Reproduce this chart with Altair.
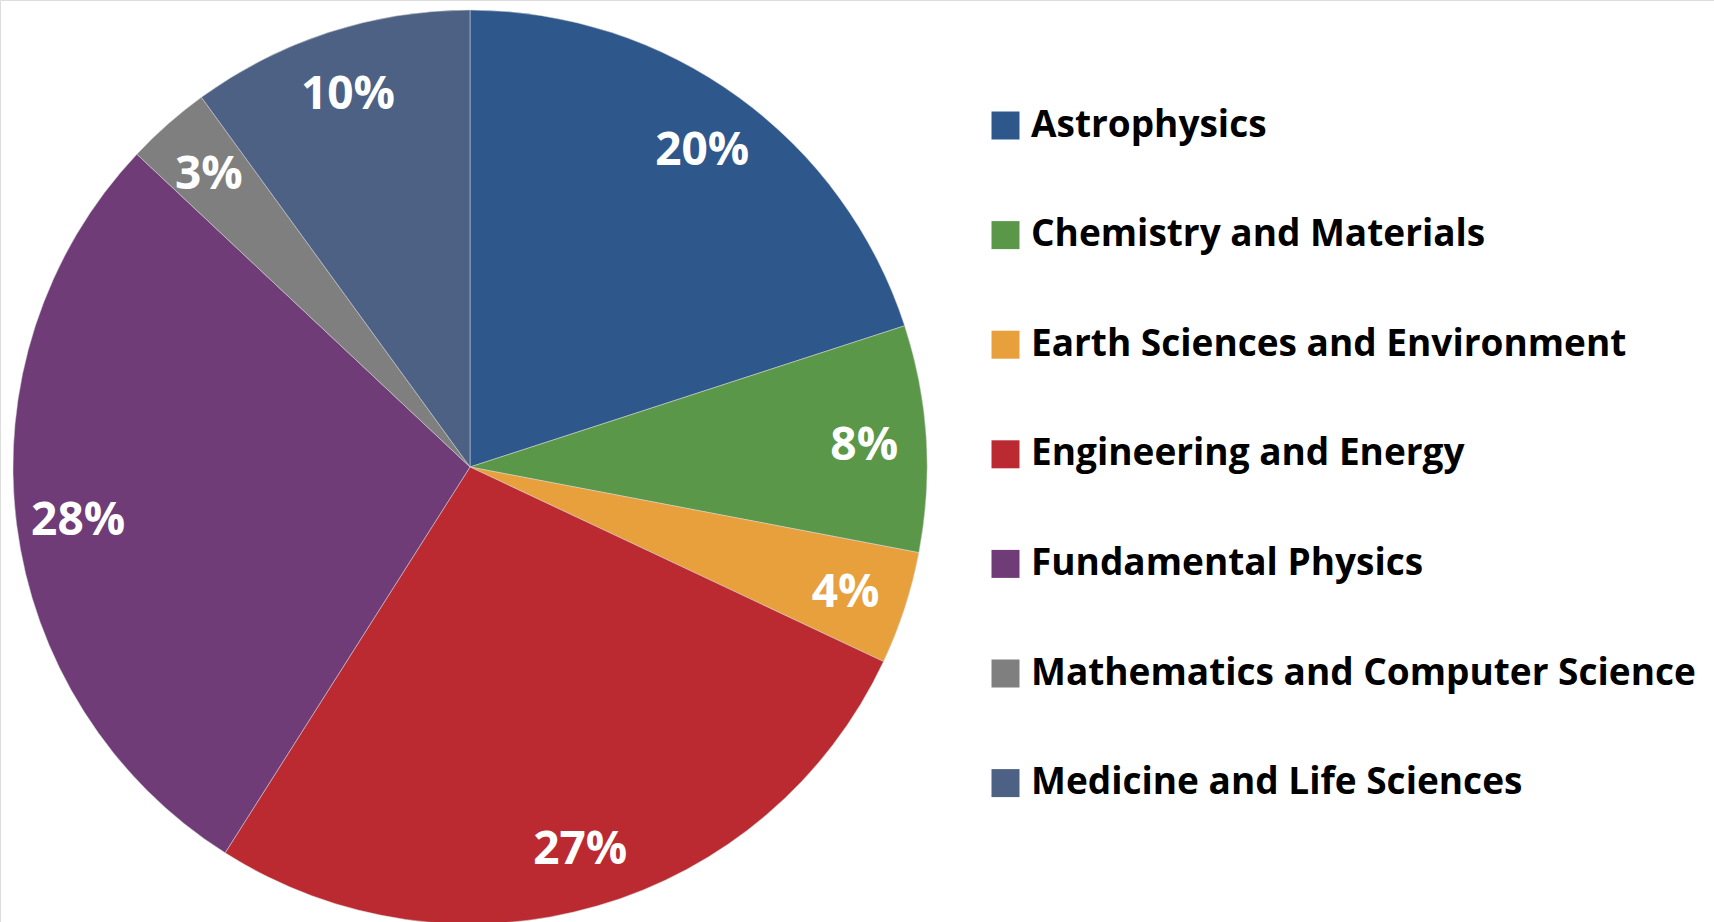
import altair as alt
import pandas as pd

categories = [
    "Astrophysics",
    "Chemistry and Materials",
    "Earth Sciences and Environment",
    "Engineering and Energy",
    "Fundamental Physics",
    "Mathematics and Computer Science",
    "Medicine and Life Sciences",
]
shares = [20, 8, 4, 27, 28, 3, 10]
colors = ["#2E588C", "#5B9748", "#E8A03D", "#BB2A30", "#6F3C77", "#7F7F7F", "#4C6183"]

df = pd.DataFrame({"category": categories, "share": shares, "order": list(range(len(categories)))})

FONT = "Open Sans"

base = alt.Chart(df).encode(
    theta=alt.Theta("share:Q", stack=True),
    order=alt.Order("order:Q", sort="ascending"),
    x=alt.value(470),
    y=alt.value(467),
)

pie = base.mark_arc(radius=457, stroke="#d8d8d8", strokeWidth=0.5).encode(
    color=alt.Color(
        "category:N",
        scale=alt.Scale(domain=categories, range=colors),
        legend=alt.Legend(
            title=None,
            orient="none",
            legendX=987,
            legendY=107,
            symbolType="square",
            symbolSize=784,
            symbolStrokeWidth=0,
            labelFont=FONT,
            labelFontWeight="bold",
            labelFontSize=37,
            labelColor="#000000",
            labelOffset=7,
            labelLimit=800,
            rowPadding=71.6,
            padding=0,
        ),
    )
)

labels = base.mark_text(
    radius=395, font=FONT, fontWeight="bold", fontSize=46, color="white", dy=4
).transform_calculate(label="datum.share + '%'").encode(
    text="label:N", detail="category:N"
)

chart = (
    alt.layer(pie, labels)
    .properties(width=1714, height=922, padding=0, autosize=alt.AutoSizeParams(type="none"))
    .configure_view(stroke=None)
    .configure(background="white")
)

chart.save("out.html", embed_options={"renderer": "svg", "actions": False})
